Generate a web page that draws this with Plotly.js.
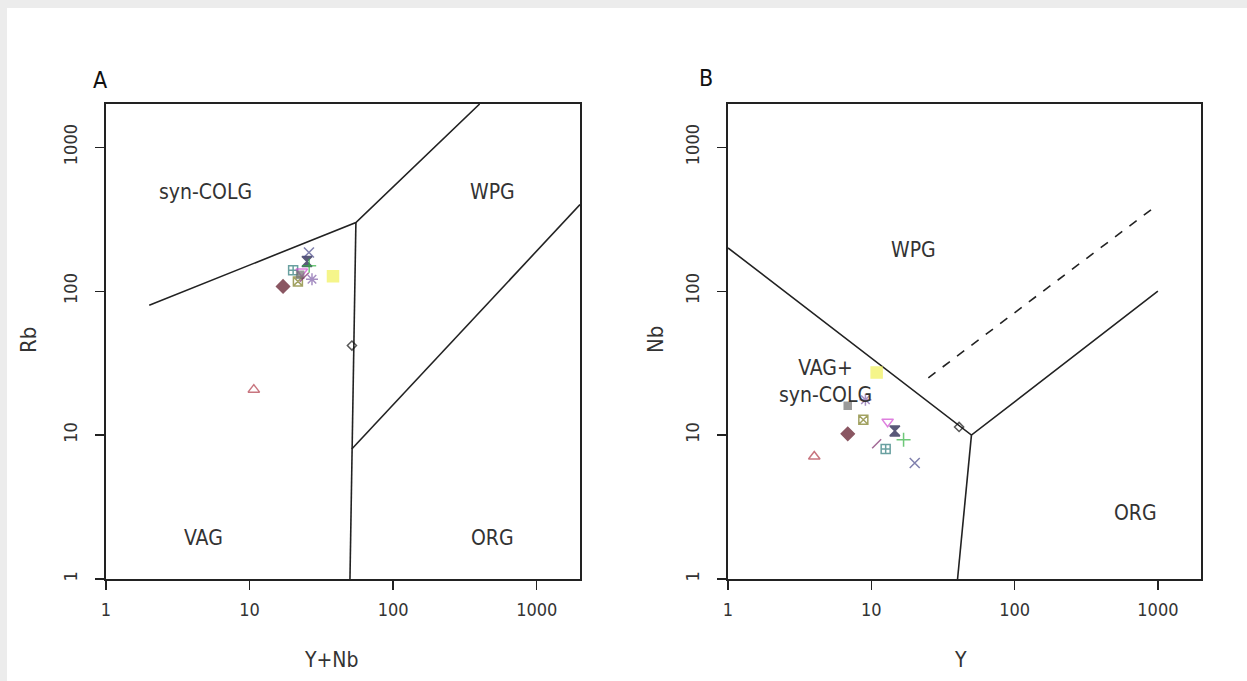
<!DOCTYPE html>
<html>
<head>
<meta charset="utf-8">
<script src="https://cdn.plot.ly/plotly-3.0.1.min.js"></script>
<style>html,body{margin:0;padding:0;background:#fff;}#chart{width:1247px;height:681px;}</style>
</head>
<body>
<div id="chart"></div>
<script>
// ---- Data ----
const sampleNames = ["S1","S2","S3","S4","S5","S6","S7","S8","S9","S10","S11","S12","S13"];
// Panel A: Rb vs Y+Nb
const panelA_YNb = [10.7, 17.1, 20.1, 21.7, 23.1, 25.1, 25.9, 27.2, 38.1, 22.5, 26.0, 24.0, 51.6];
const panelA_Rb  = [20.7, 108, 140, 117, 137, 161, 186, 121, 127, 130, 150, 125, 41.9];
// Panel B: Nb vs Y
const panelB_Y   = [4.0, 6.85, 12.6, 8.8, 13.0, 14.6, 20.1, 9.1, 10.9, 6.85, 16.8, 10.9, 41.0];
const panelB_Nb  = [7.1, 10.2, 8.0, 12.8, 12.4, 10.7, 6.4, 17.6, 27.2, 16.0, 9.3, 8.7, 11.4];

// Discrimination boundaries (Pearce et al. 1984)
const bA1x = [2, 55, 400],      bA1y = [80, 300, 2000];
const bA2x = [55, 51.5, 50],    bA2y = [300, 8, 1];
const bA3x = [51.5, 2000],      bA3y = [8, 400];
const bB1x = [1, 50, 1000],     bB1y = [200, 10, 100];
const bB2x = [50, 40],          bB2y = [10, 1];
const bB3x = [25, 1000],        bB3y = [25, 400];

const tickVals = [1, 10, 100, 1000];
const tickText = ["1", "10", "100", "1000"];

// ---- Styles ----
const symbols = ["triangle-up-open","diamond-cross","square-cross-open","square-x-open","triangle-down-open",
  "hourglass","x-thin-open","asterisk-open","square","square","cross-thin-open","line-ne-open","diamond-open"];
const colors = ["#b03a48","#5a1020","#2a7878","#7a7a20","#d048d0","#141440","#4a4a8a","#8060a8",
  "#f2f25a","#707070","#30b040","#7a2a6a","#111111"];
const sizes = [10,10,9,9,10,10,10,10,11,7,10,9,7];

const lineStyle = {color: "#222", width: 1.6};
const FONT = "'Liberation Sans Narrow', 'DejaVu Sans Condensed', 'Liberation Sans', Arial, sans-serif";

function bline(x, y, xa, ya, dash) {
  return {x: x, y: y, xaxis: xa, yaxis: ya, mode: "lines", type: "scatter", hoverinfo: "skip",
    line: Object.assign({}, lineStyle, {dash: dash || "solid"}), showlegend: false};
}

const traces = [
  bline(bA1x, bA1y, "x", "y"), bline(bA2x, bA2y, "x", "y"), bline(bA3x, bA3y, "x", "y"),
  bline(bB1x, bB1y, "x2", "y2"), bline(bB2x, bB2y, "x2", "y2"), bline(bB3x, bB3y, "x2", "y2", "dash"),
  {x: panelA_YNb, y: panelA_Rb, text: sampleNames, xaxis: "x", yaxis: "y", mode: "markers", type: "scatter",
    showlegend: false, marker: {symbol: symbols, color: colors, size: sizes, line: {color: colors, width: 1.5}}},
  {x: panelB_Y, y: panelB_Nb, text: sampleNames, xaxis: "x2", yaxis: "y2", mode: "markers", type: "scatter",
    showlegend: false, marker: {symbol: symbols, color: colors, size: sizes, line: {color: colors, width: 1.5}}}
];

const W = 1247, H = 681;
function axisBase(extra) {
  return Object.assign({
    type: "log", range: [0, Math.log10(2000)], tickmode: "array", tickvals: tickVals, ticktext: tickText,
    showgrid: false, zeroline: false, showline: true, mirror: true, linecolor: "#222", linewidth: 1.6,
    ticks: "outside", ticklen: 9, tickwidth: 1.4, tickcolor: "#222",
    tickfont: {family: FONT, size: 18, color: "#333"}, fixedrange: true
  }, extra);
}
const yDom = [(H - 579) / H, (H - 104) / H];

function ann(text, x, y, xref, yref, size, extra) {
  return Object.assign({text: text, x: x, y: y, xref: xref, yref: yref, showarrow: false,
    xanchor: "center", yanchor: "middle",
    font: {family: FONT, size: size, color: "#333"}}, extra || {});
}

const layout = {
  width: W, height: H,
  margin: {l: 0, r: 0, t: 0, b: 0},
  paper_bgcolor: "#ffffff", plot_bgcolor: "#ffffff",
  showlegend: false,
  xaxis: axisBase({domain: [106 / W, 580 / W], anchor: "y", ticklabelstandoff: 5}),
  yaxis: axisBase({domain: yDom, anchor: "x", tickangle: -90, ticklabelstandoff: 11}),
  xaxis2: axisBase({domain: [728 / W, 1201 / W], anchor: "y2", ticklabelstandoff: 5}),
  yaxis2: axisBase({domain: yDom, anchor: "x2", tickangle: -90, ticklabelstandoff: 11}),
  shapes: [
    {type: "rect", xref: "paper", yref: "paper", x0: 0, x1: 1, y0: (H - 8) / H, y1: 1,
      fillcolor: "#ececec", line: {width: 0}, layer: "below"},
    {type: "rect", xref: "paper", yref: "paper", x0: 0, x1: 7 / W, y0: 0, y1: 1,
      fillcolor: "#ececec", line: {width: 0}, layer: "below"}
  ],
  annotations: [
    ann("A", 100 / W, (H - 80) / H, "paper", "paper", 23, {font: {family: FONT, size: 23, color: "#111"}}),
    ann("B", 706 / W, (H - 78) / H, "paper", "paper", 23, {font: {family: FONT, size: 23, color: "#111"}}),
    ann("Rb", 28 / W, (H - 340) / H, "paper", "paper", 22, {textangle: -90}),
    ann("Y+Nb", 331 / W, (H - 660) / H, "paper", "paper", 21),
    ann("Nb", 655 / W, (H - 340) / H, "paper", "paper", 22, {textangle: -90}),
    ann("Y", 960 / W, (H - 660) / H, "paper", "paper", 21),
    ann("syn-COLG", Math.log10(4.9), Math.log10(488), "x", "y", 21),
    ann("WPG", Math.log10(495), Math.log10(488), "x", "y", 21),
    ann("VAG", Math.log10(4.8), Math.log10(1.93), "x", "y", 21),
    ann("ORG", Math.log10(490), Math.log10(1.93), "x", "y", 21),
    ann("WPG", Math.log10(19.7), Math.log10(192), "x2", "y2", 21),
    ann("VAG+<br>syn-COLG", Math.log10(4.8), Math.log10(23.5), "x2", "y2", 21),
    ann("ORG", Math.log10(693), Math.log10(2.88), "x2", "y2", 21)
  ]
};

Plotly.newPlot("chart", traces, layout, {displayModeBar: false, staticPlot: true});
</script>
</body>
</html>
